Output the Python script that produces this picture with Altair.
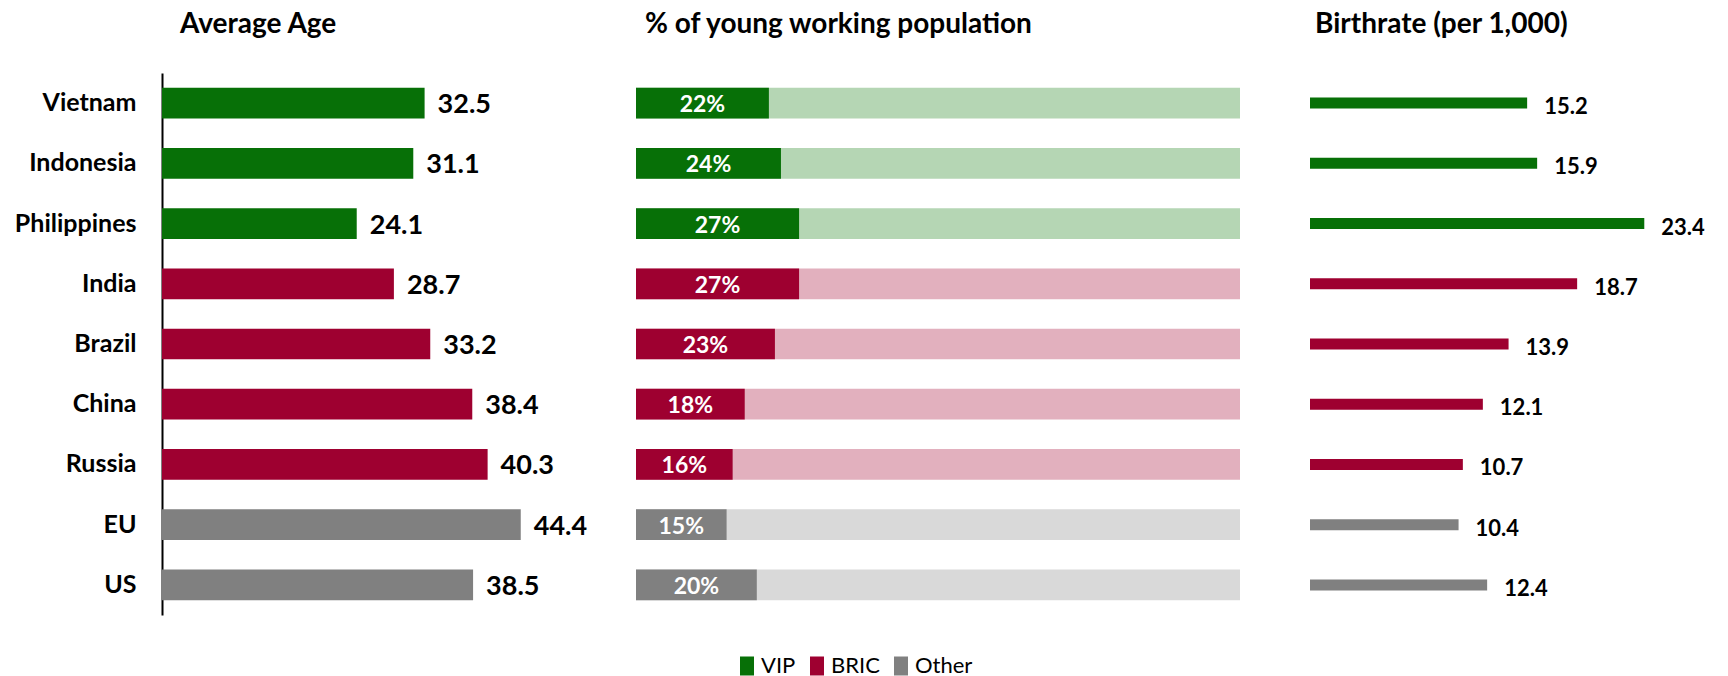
import altair as alt
import pandas as pd

countries = ["Vietnam", "Indonesia", "Philippines", "India", "Brazil", "China", "Russia", "EU", "US"]
groups = ["VIP", "VIP", "VIP", "BRIC", "BRIC", "BRIC", "BRIC", "Other", "Other"]
avg_age = [32.5, 31.1, 24.1, 28.7, 33.2, 38.4, 40.3, 44.4, 38.5]
young_pct = [22, 24, 27, 27, 23, 18, 16, 15, 20]
birthrate = [15.2, 15.9, 23.4, 18.7, 13.9, 12.1, 10.7, 10.4, 12.4]

group_names = ["VIP", "BRIC", "Other"]
dark_colors = ["#077007", "#9e0030", "#808080"]
light_colors = ["#b5d6b4", "#e2b0be", "#d9d9d9"]

titles = ["Average Age", "% of young working population", "Birthrate (per 1,000)"]

FONT = "Lato"

light_map = dict(zip(group_names, light_colors))
df = pd.DataFrame({
    "country": countries,
    "group": groups,
    "age": avg_age,
    "young": young_pct,
    "birth": birthrate,
})
df["light"] = df["group"].map(light_map)
df["full"] = 100
df["young_mid"] = df["young"] / 2
df["young_label"] = df["young"].astype(str) + "%"
df["age_label"] = df["age"].map(lambda v: f"{v:.1f}")
df["birth_label"] = df["birth"].map(lambda v: f"{v:.1f}")

band = alt.Scale(paddingInner=0.49, paddingOuter=0.245)


def y_enc(show_axis):
    if show_axis:
        ax = alt.Axis(domain=True, domainColor="black", domainWidth=2, ticks=False,
                      labelFont=FONT, labelFontSize=25, labelFontWeight="bold",
                      labelColor="black", labelPadding=26, grid=False)
    else:
        ax = None
    return alt.Y("country:N", sort=countries, scale=band, title=None, axis=ax)


color_enc = alt.Color(
    "group:N",
    scale=alt.Scale(domain=group_names, range=dark_colors),
    legend=alt.Legend(
        title=None, orient="none", legendX=574, legendY=582, direction="horizontal",
        symbolType="M-0.737,-1H0.737V1H-0.737Z", symbolSize=361, symbolStrokeWidth=0,
        symbolOpacity=1, labelFont=FONT, labelFontSize=22, labelColor="black",
        labelOffset=3, columnPadding=10, padding=0,
    ),
)


def title_params(text, dx):
    return alt.TitleParams(text=text, anchor="start", frame="group", dx=dx, offset=34,
                           font=FONT, fontSize=28, fontWeight="bold", color="black")


# Panel 1: average age
base1 = alt.Chart(df).encode(y=y_enc(True))
bars1 = base1.mark_bar().encode(
    x=alt.X("age:Q", scale=alt.Scale(domain=[0, 48.1]), axis=None),
    color=color_enc,
)
text1 = base1.mark_text(align="left", baseline="middle", dx=13, dy=2, font=FONT,
                        fontSize=27, fontWeight="bold", color="black").encode(
    x="age:Q", text="age_label:N")
p1 = (bars1 + text1).properties(width=404, height=542, title=title_params(titles[0], 18))

# Panel 2: young working population
base2 = alt.Chart(df).encode(y=y_enc(False))
bg2 = base2.mark_bar().encode(
    x=alt.X("full:Q", scale=alt.Scale(domain=[0, 100]), axis=None),
    color=alt.Color("light:N", scale=None),
)
fg2 = base2.mark_bar().encode(x="young:Q", color=color_enc)
text2 = base2.mark_text(align="center", baseline="middle", dy=2, font=FONT, fontSize=23,
                        fontWeight="bold", color="white").encode(
    x="young_mid:Q", text="young_label:N")
p2 = (bg2 + fg2 + text2).properties(width=604, height=542, title=title_params(titles[1], 9))

# Panel 3: birthrate
base3 = alt.Chart(df).encode(y=y_enc(False))
bars3 = base3.mark_bar(size=11).encode(
    x=alt.X("birth:Q", scale=alt.Scale(domain=[0, 28]), axis=None),
    color=color_enc,
)
text3 = base3.mark_text(align="left", baseline="middle", dx=17, dy=4, font=FONT,
                        fontSize=22, fontWeight="bold", color="black").encode(
    x="birth:Q", text="birth_label:N")
p3 = (bars3 + text3).properties(width=400, height=542, title=title_params(titles[2], 5))

chart = alt.hconcat(p1, p2, p3, spacing=70, bounds="flush").properties(
    padding={"left": 14, "top": 11, "right": 0, "bottom": 0}
).configure_view(stroke=None)

chart.save("out.html", embed_options={"renderer": "svg", "actions": False})
